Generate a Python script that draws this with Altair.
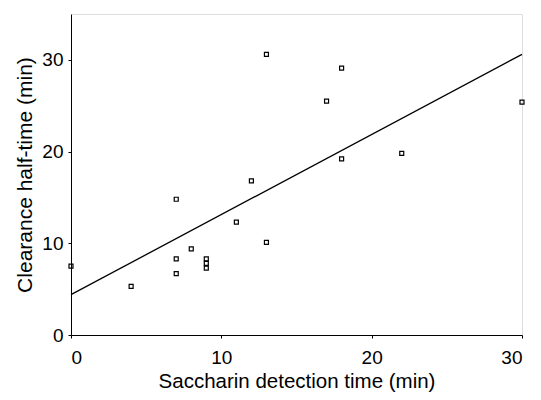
import altair as alt
import pandas as pd

# Data
sacch_x = [0, 4, 7, 7, 7, 8, 9, 9, 9, 11, 12, 13, 13, 17, 18, 18, 22, 30]
clear_y = [7.5, 5.3, 14.8, 8.3, 6.7, 9.4, 8.3, 7.8, 7.3, 12.3, 16.8, 30.6, 10.1, 25.5, 29.1, 19.2, 19.8, 25.4]

line_x = [0, 30]
line_y = [4.4, 30.6]

pts = pd.DataFrame({"x": sacch_x, "y": clear_y})
ln = pd.DataFrame({"x": line_x, "y": line_y})

FONT = "Liberation Sans"

xscale = alt.Scale(domain=[0, 30], nice=False, zero=False)
yscale = alt.Scale(domain=[0, 35], nice=False, zero=False)

xaxis = alt.Axis(values=[0, 10, 20, 30], title="Saccharin detection time (min)",
                 grid=False, tickSize=3, labelPadding=10,
                 titleBaseline="alphabetic", titleY=52,
                 domainColor="black", tickColor="black", labelColor="black", titleColor="black",
                 labelFontSize=19, titleFontSize=20.5, labelFont=FONT, titleFont=FONT,
                 titleFontWeight="normal")
yaxis = alt.Axis(values=[0, 10, 20, 30], title="Clearance half-time (min)",
                 grid=False, tickSize=3, labelPadding=5, titlePadding=6,
                 domainColor="black", tickColor="black", labelColor="black", titleColor="black",
                 labelFontSize=19, titleFontSize=21, labelFont=FONT, titleFont=FONT,
                 titleFontWeight="normal")

line = alt.Chart(ln).mark_line(color="black", strokeWidth=1.3).encode(
    x=alt.X("x:Q", scale=xscale, axis=xaxis),
    y=alt.Y("y:Q", scale=yscale, axis=yaxis),
)
points = alt.Chart(pts).mark_point(shape="square", filled=False, color="black",
                                   size=16, strokeWidth=1.2, opacity=1).encode(
    x=alt.X("x:Q", scale=xscale),
    y=alt.Y("y:Q", scale=yscale),
)

chart = alt.layer(line, points).properties(
    width=451, height=321,
    autosize=alt.AutoSizeParams(type="none"),
    padding={"left": 63, "top": 6, "right": 11, "bottom": 57},
).configure_view(stroke=None).configure(background="white")

chart.save("out.html", embed_options={"renderer": "svg", "actions": False})
